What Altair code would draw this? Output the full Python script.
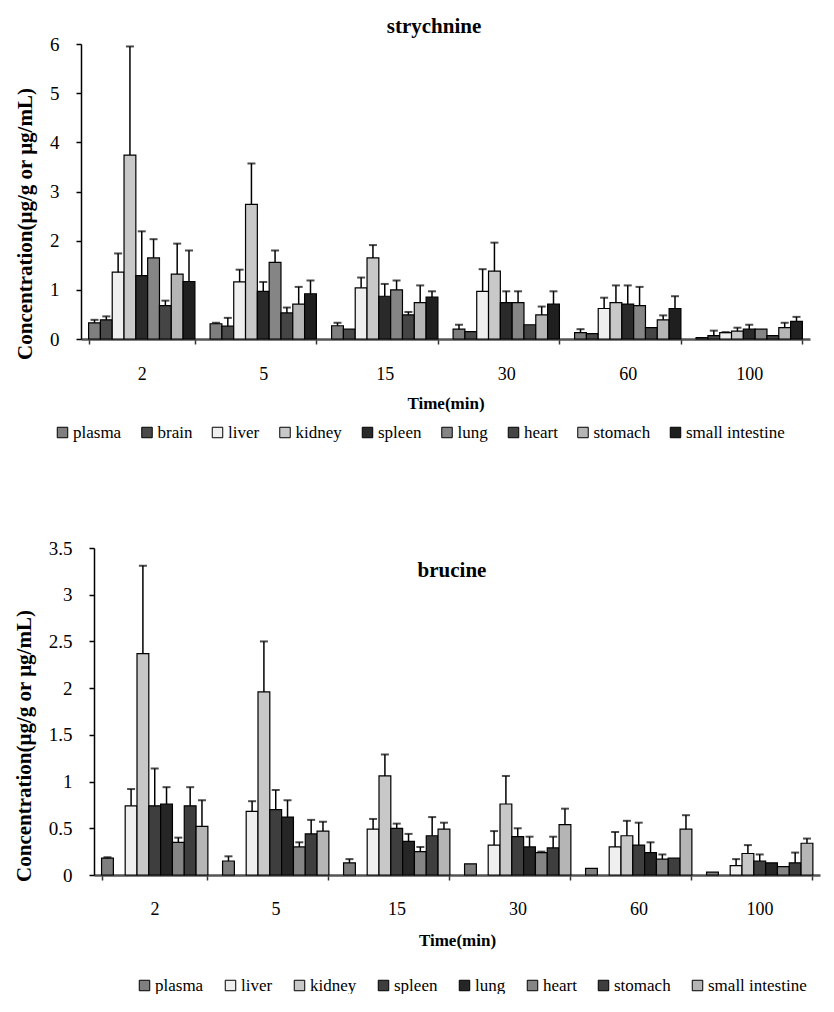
import altair as alt
import pandas as pd

times = ["2", "5", "15", "30", "60", "100"]

# ---- strychnine ----
stry_organs = ["plasma", "brain", "liver", "kidney", "spleen", "lung", "heart", "stomach", "small intestine"]
stry_colors = ["#7f7f7f", "#4a4a4a", "#efefef", "#c8c8c8", "#2a2a2a", "#858585", "#454545", "#b5b5b5", "#1f1f1f"]
stry_plasma = [0.33, 0.31, 0.27, 0.20, 0.13, 0.03]
stry_brain = [0.39, 0.26, 0.20, 0.15, 0.11, 0.07]
stry_liver = [1.36, 1.16, 1.04, 0.97, 0.62, 0.13]
stry_kidney = [3.74, 2.74, 1.65, 1.38, 0.74, 0.16]
stry_spleen = [1.29, 0.97, 0.87, 0.74, 0.71, 0.20]
stry_lung = [1.65, 1.56, 1.00, 0.74, 0.68, 0.20]
stry_heart = [0.68, 0.53, 0.49, 0.29, 0.23, 0.07]
stry_stomach = [1.32, 0.71, 0.74, 0.49, 0.39, 0.23]
stry_si = [1.17, 0.92, 0.85, 0.71, 0.62, 0.36]
stry_plasma_sd = [0.06, 0.02, 0.06, 0.09, 0.07, 0.0]
stry_brain_sd = [0.07, 0.17, 0.0, 0.0, 0.0, 0.10]
stry_liver_sd = [0.38, 0.25, 0.21, 0.45, 0.22, 0.01]
stry_kidney_sd = [2.21, 0.83, 0.26, 0.58, 0.35, 0.07]
stry_spleen_sd = [0.90, 0.19, 0.25, 0.23, 0.38, 0.09]
stry_lung_sd = [0.38, 0.24, 0.19, 0.23, 0.38, 0.0]
stry_heart_sd = [0.10, 0.11, 0.06, 0.0, 0.0, 0.0]
stry_stomach_sd = [0.62, 0.35, 0.35, 0.17, 0.09, 0.10]
stry_si_sd = [0.63, 0.27, 0.12, 0.26, 0.25, 0.09]

# ---- brucine ----
bru_organs = ["plasma", "liver", "kidney", "spleen", "lung", "heart", "stomach", "small intestine"]
bru_colors = ["#7f7f7f", "#efefef", "#c8c8c8", "#3e3e3e", "#262626", "#858585", "#3e3e3e", "#b5b5b5"]
bru_plasma = [0.18, 0.15, 0.13, 0.12, 0.07, 0.03]
bru_liver = [0.74, 0.68, 0.49, 0.32, 0.30, 0.10]
bru_kidney = [2.37, 1.96, 1.06, 0.76, 0.42, 0.23]
bru_spleen = [0.74, 0.70, 0.50, 0.41, 0.32, 0.15]
bru_lung = [0.76, 0.62, 0.36, 0.30, 0.24, 0.13]
bru_heart = [0.35, 0.30, 0.25, 0.24, 0.17, 0.09]
bru_stomach = [0.74, 0.44, 0.42, 0.29, 0.18, 0.13]
bru_si = [0.52, 0.47, 0.49, 0.54, 0.49, 0.34]
bru_plasma_sd = [0.01, 0.05, 0.04, 0.0, 0.0, 0.0]
bru_liver_sd = [0.18, 0.11, 0.11, 0.15, 0.16, 0.07]
bru_kidney_sd = [0.94, 0.54, 0.23, 0.30, 0.16, 0.09]
bru_spleen_sd = [0.40, 0.21, 0.05, 0.09, 0.24, 0.07]
bru_lung_sd = [0.18, 0.18, 0.08, 0.11, 0.11, 0.0]
bru_heart_sd = [0.05, 0.05, 0.05, 0.01, 0.05, 0.0]
bru_stomach_sd = [0.20, 0.15, 0.20, 0.12, 0.0, 0.11]
bru_si_sd = [0.28, 0.10, 0.07, 0.17, 0.15, 0.05]

stry_means = [stry_plasma, stry_brain, stry_liver, stry_kidney, stry_spleen,
              stry_lung, stry_heart, stry_stomach, stry_si]
stry_sds = [stry_plasma_sd, stry_brain_sd, stry_liver_sd, stry_kidney_sd, stry_spleen_sd,
            stry_lung_sd, stry_heart_sd, stry_stomach_sd, stry_si_sd]
bru_means = [bru_plasma, bru_liver, bru_kidney, bru_spleen, bru_lung,
             bru_heart, bru_stomach, bru_si]
bru_sds = [bru_plasma_sd, bru_liver_sd, bru_kidney_sd, bru_spleen_sd, bru_lung_sd,
           bru_heart_sd, bru_stomach_sd, bru_si_sd]

FONT = "Liberation Serif"
YTITLE = "Concentration(μg/g or μg/mL)"


def panel(title, organs, colors, means, sds, ymax, ystep, width, height, left_shift,
          title_dx, title_offset, legend_x, legend_y, col_pad, xlab_pad, xtitle_pad,
          ytitle_shift):
    rows = []
    for o, m, s in zip(organs, means, sds):
        for t, mv, sv in zip(times, m, s):
            rows.append({"time": t, "organ": o, "mean": mv, "sd": sv, "top": mv + sv})
    df = pd.DataFrame(rows)

    nvals = int(round(ymax / ystep))
    yvals = [round(i * ystep, 2) for i in range(nvals + 1)]

    x = alt.X("time:N", sort=times,
              scale=alt.Scale(paddingInner=0.125, paddingOuter=0.0625,
                              range=[-left_shift, width]),
              axis=alt.Axis(title="Time(min)", labelAngle=0, tickBand="extent",
                            tickSize=5, labelPadding=xlab_pad, titlePadding=xtitle_pad,
                            labelFont=FONT, labelFontSize=18, labelColor="black",
                            titleFont=FONT, titleFontSize=17, titleFontWeight="bold",
                            titleColor="black",
                            domainColor="#555555", domainWidth=2.5,
                            tickColor="#333333", tickWidth=1.5))
    xo = alt.XOffset("organ:N", sort=organs,
                     scale=alt.Scale(paddingInner=0, paddingOuter=0))
    yscale = alt.Scale(domain=[0, ymax], nice=False)
    yaxis = alt.Axis(values=yvals, format="~g", title=YTITLE, grid=False, tickSize=5,
                     offset=left_shift,
                     labelPadding=17, titlePadding=14, domainColor="black",
                     labelFont=FONT, labelFontSize=19, labelColor="black",
                     titleFont=FONT, titleFontSize=21, titleFontWeight="bold",
                     titleColor="black", titleY=height / 2 + ytitle_shift,
                     domainWidth=1.5, tickColor="black", tickWidth=1.5)

    color = alt.Color("organ:N", sort=organs,
                      scale=alt.Scale(domain=organs, range=colors),
                      legend=alt.Legend(orient="none", legendX=legend_x, legendY=legend_y,
                                        direction="horizontal", columns=len(organs),
                                        gridAlign="none", title=None,
                                        symbolType="square", symbolSize=110,
                                        symbolStrokeColor="black", symbolStrokeWidth=1,
                                        labelFont=FONT, labelFontSize=17,
                                        labelColor="black", labelOffset=2,
                                        columnPadding=col_pad))

    base = alt.Chart(df)
    bars = base.mark_bar(stroke="black", strokeWidth=1.2).encode(
        x=x, xOffset=xo,
        y=alt.Y("mean:Q", scale=yscale, axis=yaxis, title=YTITLE),
        color=color,
    )
    err = base.transform_filter("datum.sd > 0")
    rule = err.mark_rule(color="black", strokeWidth=1.5).encode(
        x=x, xOffset=xo,
        y=alt.Y("mean:Q", scale=yscale, title=YTITLE),
        y2="top:Q",
    )
    cap = err.mark_tick(color="black", thickness=2, size=8).encode(
        x=x, xOffset=xo,
        y=alt.Y("top:Q", scale=yscale, title=YTITLE),
    )
    return alt.layer(bars, rule, cap).properties(
        width=width, height=height,
        title=alt.TitleParams(title, font=FONT, fontSize=21, fontWeight="bold",
                              color="black", anchor="middle", dx=title_dx,
                              offset=title_offset),
    )


top = panel("strychnine", stry_organs, stry_colors, stry_means, stry_sds,
            6, 1, 716, 295, 13, -18, -2, -40, 380, 16.5, 21, 12, 32)
bottom = panel("brucine", bru_organs, bru_colors, bru_means, bru_sds,
               3.5, 0.5, 726, 327, 0, -5, -42, 42, 429, 18, 20, 14, 34)

chart = alt.concat(top, bottom, columns=1, align="none", spacing=98).resolve_scale(
    color="independent"
).properties(
    padding={"left": 5, "top": 8, "right": 0, "bottom": 0}
).configure(
    font=FONT
).configure_view(
    stroke=None
).configure_legend(
    labelFont=FONT, labelFontSize=17, labelColor="black"
)

chart.save("out.html", embed_options={"renderer": "svg", "actions": False})
